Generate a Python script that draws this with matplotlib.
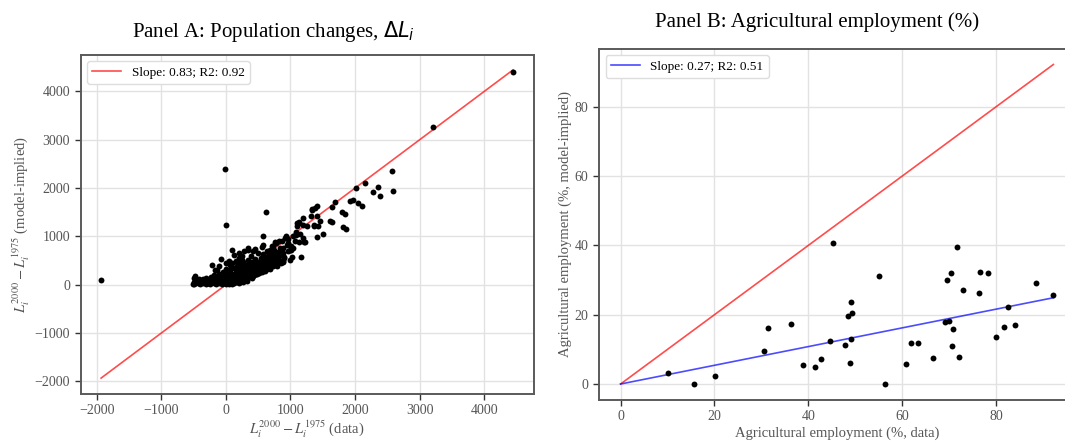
import matplotlib
matplotlib.use("Agg")
import matplotlib.pyplot as plt

plt.rcParams["font.family"] = ["Liberation Serif", "DejaVu Serif"]
plt.rcParams["mathtext.fontset"] = "stix"

# Panel A: population changes (data vs model-implied)
# sparse points / outliers
pop_data_sparse = [-1930, -16, 0, 615, 4444, 3203, 2579, 2589, 2362, 2388,
                   2274, 2155, 2016, 2052, 2114, 1922, 1974, 1690, 1648, 1339,
                   1416, 1793, 1845, 1819, 1861, 1638, 1610, 1509, 1406, 1318,
                   1406, 1370, 1137, 1189, 1096, 1085, 1199, 1158, 1008, 915,
                   966, 966, 992, 879, 786, 708, 837, 734, 553, 346,
                   450, 98, -67, -217, -160, -481, -491]
pop_model_sparse = [103, 2402, 1235, 1498, 4400, 3262, 2346, 1946, 2022, 1843,
                    1912, 2098, 2001, 1691, 1636, 1725, 1746, 1711, 1608, 1567,
                    1622, 1498, 1463, 1187, 1152, 1290, 1310, 1056, 987, 1429,
                    1429, 1222, 1291, 1380, 1222, 1084, 966, 573, 794, 966,
                    945, 863, 725, 469, 518, 690, 759, 794, 773, 725,
                    738, 725, 531, 414, 297, 173, 14]

# mid-range points
pop_data_mid = [579, 579, 760, 826, 889, 966, 1044, 889, 992, 1019,
                1137, 1214, 1085, 1147, 1189, 1137, 1328, 1380, 1364, 1432,
                1455, 1251, 1102, 1219, 1037, 1064, 930, 1011, 824, 743,
                770, 650, 680, 700, 720, 800, 850, 900, 940, 870,
                50, 120, 200, 280, 350, 420, -100, 0, 250, 180]
pop_model_mid = [1000, 828, 876, 911, 656, 690, 760, 482, 518, 573,
                 876, 876, 1035, 1056, 1242, 1277, 1553, 1588, 1242, 1207,
                 1310, 1207, 1276, 876, 1000, 897, 1000, 724, 655, 655,
                 862, 560, 720, 480, 800, 600, 700, 580, 820, 900,
                 500, 620, 650, 700, 760, 700, 380, 450, 520, 480]

# dense cluster around the origin
pop_data_dense = [-510, -500, -490, -470, -450, -430, -410, -400, -380, -360,
                  -350, -330, -310, -300, -290, -270, -250, -240, -230, -220,
                  -200, -190, -180, -170, -160, -150, -140, -130, -120, -110,
                  -100, -90, -80, -70, -60, -50, -40, -30, -20, -10,
                  0, 0, 10, 20, 30, 40, 50, 60, 60, 70,
                  80, 90, 100, 100, 110, 120, 120, 130, 140, 150,
                  150, 160, 170, 170, 180, 190, 200, 200, 210, 220,
                  220, 230, 240, 250, 250, 260, 270, 270, 280, 290,
                  300, 310, 320, 330, 340, 340, 350, 360, 370, 380,
                  390, 400, 400, 410, 420, 430, 440, 450, 460, 470,
                  480, 490, 500, 500, 510, 520, 530, 540, 550, 560,
                  570, 580, 590, 600, 610, 620, 630, 640, 650, 660,
                  670, 680, 690, 700, 710, 720, 730, 740, 750, 760,
                  770, 780, 790, 800, 820, 840, 860, 880, 900, 40,
                  -20, 20, 60, 100, 130, 170, 200, 230, 260, 300,
                  330, 360, 400, 440, 480, 520, 560, 600, 640, 680]
pop_model_dense = [20, 60, 150, 30, 90, 40, 120, 20, 70, 30,
                   110, 60, 20, 140, 80, 40, 110, 10, 160, 60,
                   100, 30, 200, 70, 130, 20, 300, 90, 170, 40,
                   230, 120, 60, 180, 20, 270, 100, 150, 50, 210,
                   10, 330, 120, 60, 250, 180, 20, 400, 100, 300,
                   160, 60, 220, 450, 110, 30, 340, 190, 80, 270,
                   500, 140, 50, 380, 220, 100, 300, 560, 170, 60,
                   420, 250, 130, 350, 600, 200, 90, 470, 290, 160,
                   390, 240, 120, 330, 520, 190, 430, 280, 160, 370,
                   600, 230, 470, 320, 190, 410, 270, 540, 350, 230,
                   450, 310, 650, 390, 260, 480, 340, 560, 420, 300,
                   630, 480, 370, 550, 280, 440, 700, 500, 360, 600,
                   430, 520, 320, 650, 460, 560, 390, 720, 500, 620,
                   440, 560, 380, 680, 520, 620, 460, 760, 560, 60,
                   120, 200, 40, 20, 60, 130, 40, 110, 60, 100,
                   80, 200, 150, 200, 220, 250, 270, 300, 330, 400]

pop_label = "Slope: 0.83; R2: 0.92"

# Panel B: agricultural employment (%)
agr_data = [10.0, 15.7, 20.1, 30.5, 31.4, 36.2, 38.8, 41.5, 42.8, 44.7,
            45.2, 47.9, 48.5, 48.9, 49.1, 49.3, 49.1, 55.1, 56.4, 60.7,
            61.9, 63.3, 66.6, 69.2, 69.6, 70.0, 70.3, 70.6, 70.8, 71.6,
            72.1, 72.9, 76.4, 76.6, 78.3, 80.0, 81.7, 82.6, 84.1, 88.4,
            92.2]
agr_model = [3.2, 0.0, 2.4, 9.6, 16.2, 17.3, 5.4, 4.9, 7.2, 12.3,
             40.7, 11.4, 19.5, 6.1, 23.7, 20.5, 12.9, 31.1, 0.0, 5.7,
             11.7, 11.9, 7.6, 17.8, 30.1, 18.2, 31.9, 11.1, 16.0, 39.6,
             7.8, 27.0, 26.4, 32.4, 31.9, 13.5, 16.4, 22.3, 17.0, 29.2,
             25.7]
agr_slope = 0.27
agr_label = "Slope: 0.27; R2: 0.51"

pop_x = pop_data_sparse + pop_data_mid + pop_data_dense
pop_y = pop_model_sparse + pop_model_mid + pop_model_dense

fig = plt.figure(figsize=(10.65, 4.41), dpi=100)
ax_a = fig.add_axes([0.0756, 0.1077, 0.4254, 0.7687])
ax_b = fig.add_axes([0.5624, 0.093, 0.447, 0.797])

label_color = "#555555"


def style_axis(ax):
    ax.grid(True, color="#e2e2e2", linewidth=1.0)
    ax.set_axisbelow(True)
    for sp in ax.spines.values():
        sp.set_color("#5a5a5a")
        sp.set_linewidth(1.4)
    ax.tick_params(labelsize=10, colors="#333333", labelcolor=label_color,
                   length=4, width=1.0)


# Panel A
lo = min(pop_x)
hi = max(pop_x)
ax_a.plot([lo, hi], [lo, hi], color="red", alpha=0.7, linewidth=1.2,
          label=pop_label)
ax_a.scatter(pop_x, pop_y, s=18, color="black", zorder=3, linewidths=0)
style_axis(ax_a)
ax_a.set_xticks([-2000, -1000, 0, 1000, 2000, 3000, 4000])
ax_a.set_yticks([-2000, -1000, 0, 1000, 2000, 3000, 4000])
ax_a.set_xlabel(r"$L_i^{2000} - L_i^{1975}$ (data)", fontsize=10.5,
                color=label_color, labelpad=1)
ax_a.set_ylabel(r"$L_i^{2000} - L_i^{1975}$ (model-implied)", fontsize=10.5,
                color=label_color, labelpad=2)
ax_a.legend(loc="upper left", fontsize=9.5, handlelength=2.2,
            edgecolor="#dddddd", framealpha=1)
fig.text(0.257, 0.928, r"Panel A: Population changes, $\Delta L_i$",
         ha="center", va="center", fontsize=15, math_fontfamily="dejavusans")

# Panel B
hi_b = max(agr_data)
ax_b.plot([0, hi_b], [0, hi_b], color="red", alpha=0.7, linewidth=1.2)
ax_b.plot([0, hi_b], [0, agr_slope * hi_b], color="blue", alpha=0.7,
          linewidth=1.2, label=agr_label)
ax_b.scatter(agr_data, agr_model, s=18, color="black", zorder=3, linewidths=0)
style_axis(ax_b)
ax_b.set_xticks([0, 20, 40, 60, 80])
ax_b.set_yticks([0, 20, 40, 60, 80])
ax_b.set_xlabel("Agricultural employment (%, data)", fontsize=10.5,
                color=label_color, labelpad=2.5)
ax_b.set_ylabel("Agricultural employment (%, model-implied)", fontsize=10.5,
                color=label_color, labelpad=2)
ax_b.legend(loc="upper left", fontsize=9.5, handlelength=2.2,
            edgecolor="#dddddd", framealpha=1)
fig.text(0.767, 0.949, "Panel B: Agricultural employment (%)",
         ha="center", va="center", fontsize=15)

fig.savefig("out.png", dpi=100)
